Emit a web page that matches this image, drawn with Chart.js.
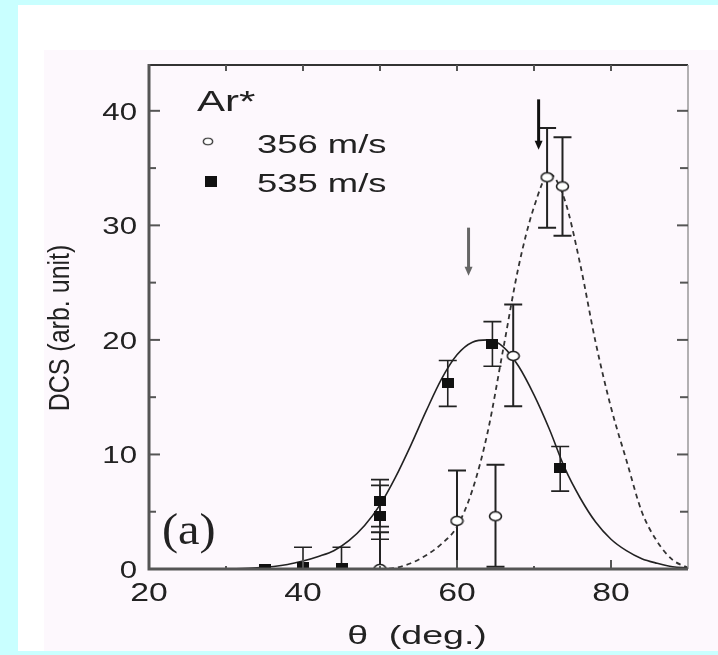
<!DOCTYPE html>
<html>
<head>
<meta charset="utf-8">
<script src="https://cdn.jsdelivr.net/npm/chart.js@4.4.1/dist/chart.umd.min.js"></script>
<style>
  html, body { margin: 0; padding: 0; background: #c9ffff; }
  #wrap { width: 718px; height: 655px; }
</style>
</head>
<body>
<div id="wrap"><canvas id="dcs" width="718" height="655"></canvas></div>
<script>
// Ar* DCS, 356 m/s beam (open circles)
const slowTheta = [50, 60, 65, 67.3, 71.7, 73.7];
const slowDcs   = [0, 4.2, 4.6, 18.6, 34.2, 33.4];
const slowLo    = [0, 0, 0.2, 14.2, 29.8, 29.1];
const slowHi    = [3.2, 8.6, 9.1, 23.1, 38.5, 37.7];

// Ar* DCS, 535 m/s beam (filled squares)
const fastTheta = [35, 40, 45, 50, 50, 58.8, 64.6, 73.4];
const fastDcs   = [0, 0.2, 0.1, 5.9, 4.6, 16.2, 19.6, 8.8];
const fastLo    = [null, 0, 0, 3.7, 2.6, 14.2, 17.7, 6.8];
const fastHi    = [null, 1.9, 1.9, 7.8, 7.3, 18.2, 21.6, 10.7];

// fitted curves
const fitFastTheta = [30, 34, 38, 40, 42, 44, 46, 48, 50, 52, 54, 56, 58, 60, 62, 64, 66, 68, 70, 72, 74, 76, 78, 80, 82, 84, 86, 88, 90];
const fitFastDcs   = [0, 0.1, 0.4, 0.7, 1.1, 1.6, 2.5, 3.8, 5.6, 8.0, 10.8, 13.8, 16.6, 18.7, 19.8, 20.0, 19.4, 17.7, 15.2, 12.2, 8.8, 6.2, 4.1, 2.6, 1.6, 0.9, 0.5, 0.2, 0.1];
const fitSlowTheta = [50, 52, 54, 56, 58, 60, 62, 64, 66, 68, 70, 72, 74, 76, 78, 80, 82, 84, 86, 88, 90];
const fitSlowDcs   = [0, 0.1, 0.5, 1.2, 2.2, 3.7, 6.9, 12.0, 19.2, 26.4, 31.6, 34.5, 32.2, 26.6, 19.8, 14.1, 9.5, 5.0, 2.4, 0.8, 0.1];

// arrows marking the rainbow angles
const arrowTheta = [61.5, 70.6];
const arrowTop   = [29.8, 41.0];
const arrowTip   = [25.6, 36.6];
const arrowColor = ['#666', '#111'];

// axis ticks
const xMajor = [20, 40, 60, 80];
const xMinor = [30, 50, 70];
const xTop   = [30, 40, 50, 60, 70, 80];
const yMajor = [0, 10, 20, 30, 40];
const yMinor = [5, 15, 25, 35];

const SANS = '"Liberation Sans", Arial, sans-serif';
const SERIF = '"Liberation Serif", "Times New Roman", serif';
const INK = '#222';

function pts(xs, ys) {
  return xs.map((x, i) => ({ x: x, y: ys[i] }));
}

// markers are slightly wider than tall
function makeCircle() {
  const c = document.createElement('canvas');
  c.width = 15; c.height = 12;
  const g = c.getContext('2d');
  g.beginPath();
  g.ellipse(7.5, 6, 6, 4.5, 0, 0, Math.PI * 2);
  g.fillStyle = '#fff';
  g.fill();
  g.lineWidth = 1.6;
  g.strokeStyle = INK;
  g.stroke();
  return c;
}
function makeSquare() {
  const c = document.createElement('canvas');
  c.width = 12; c.height = 10;
  const g = c.getContext('2d');
  g.fillStyle = '#111';
  g.fillRect(0, 0, 12, 10);
  return c;
}
const circleImg = makeCircle();
const squareImg = makeSquare();

// horizontally widened text
function wide(ctx, str, x, y, size, sx, align, font, rot) {
  ctx.save();
  ctx.translate(x, y);
  ctx.scale(sx, 1);
  if (rot) ctx.rotate(rot);
  ctx.font = size + 'px ' + (font || SANS);
  ctx.textAlign = align || 'left';
  ctx.textBaseline = 'alphabetic';
  ctx.fillStyle = INK;
  ctx.fillText(str, 0, 0);
  ctx.restore();
}

const backdrop = {
  id: 'backdrop',
  beforeDraw(chart) {
    const ctx = chart.ctx;
    ctx.save();
    ctx.fillStyle = '#c9ffff';
    ctx.fillRect(0, 0, 718, 655);
    ctx.fillStyle = '#ffffff';
    ctx.fillRect(18, 5, 700, 646);
    ctx.fillStyle = '#fdf8fd';
    ctx.fillRect(44, 50, 674, 601);
    ctx.restore();
  }
};

const errorBars = {
  id: 'errorBars',
  beforeDatasetsDraw(chart) {
    const ctx = chart.ctx, xs = chart.scales.x, ys = chart.scales.y;
    const a = chart.chartArea;
    ctx.save();
    ctx.beginPath();
    ctx.rect(a.left, a.top, a.right - a.left, a.bottom - a.top + 2);
    ctx.clip();
    ctx.strokeStyle = '#222';
    const draw = (tx, lo, hi, lw) => {
      tx.forEach((t, i) => {
        if (lo[i] === null) return;
        const px = xs.getPixelForValue(t);
        const p0 = ys.getPixelForValue(lo[i]);
        const p1 = ys.getPixelForValue(hi[i]);
        ctx.lineWidth = lw;
        ctx.beginPath();
        ctx.moveTo(px, p0); ctx.lineTo(px, p1);
        ctx.moveTo(px - 9, p0); ctx.lineTo(px + 9, p0);
        ctx.moveTo(px - 9, p1); ctx.lineTo(px + 9, p1);
        ctx.stroke();
      });
    };
    draw(fastTheta, fastLo, fastHi, 1.6);
    draw(slowTheta, slowLo, slowHi, 2);
    ctx.restore();
  }
};

const frame = {
  id: 'frame',
  afterDatasetsDraw(chart) {
    const ctx = chart.ctx, xs = chart.scales.x, ys = chart.scales.y;
    const a = chart.chartArea;
    ctx.save();

    // arrows
    arrowTheta.forEach((t, i) => {
      const px = xs.getPixelForValue(t);
      const top = ys.getPixelForValue(arrowTop[i]);
      const tip = ys.getPixelForValue(arrowTip[i]);
      ctx.strokeStyle = arrowColor[i];
      ctx.fillStyle = arrowColor[i];
      ctx.lineWidth = 3;
      ctx.beginPath();
      ctx.moveTo(px, top); ctx.lineTo(px, tip - 8);
      ctx.stroke();
      ctx.beginPath();
      ctx.moveTo(px - 4, tip - 9); ctx.lineTo(px + 4, tip - 9); ctx.lineTo(px, tip);
      ctx.closePath();
      ctx.fill();
    });

    // box
    ctx.lineCap = 'butt';
    ctx.strokeStyle = '#333';
    ctx.lineWidth = 2;
    ctx.beginPath(); ctx.moveTo(a.left, a.top); ctx.lineTo(a.right, a.top); ctx.stroke();
    ctx.strokeStyle = '#999';
    ctx.lineWidth = 1.5;
    ctx.beginPath(); ctx.moveTo(a.right, a.top); ctx.lineTo(a.right, a.bottom); ctx.stroke();
    ctx.strokeStyle = '#555';
    ctx.lineWidth = 3;
    ctx.beginPath();
    ctx.moveTo(a.left, a.top - 1); ctx.lineTo(a.left, a.bottom); ctx.lineTo(a.right, a.bottom);
    ctx.stroke();

    // ticks
    ctx.lineWidth = 2;
    ctx.strokeStyle = '#555';
    const tick = (x0, y0, x1, y1) => { ctx.beginPath(); ctx.moveTo(x0, y0); ctx.lineTo(x1, y1); ctx.stroke(); };
    yMajor.forEach(v => {
      const py = ys.getPixelForValue(v);
      if (v > 0) { tick(a.left, py, a.left + 11, py); tick(a.right, py, a.right - 11, py); }
    });
    yMinor.forEach(v => {
      const py = ys.getPixelForValue(v);
      tick(a.left, py, a.left + 7, py); tick(a.right, py, a.right - 8, py);
    });
    xMajor.forEach(v => {
      const px = xs.getPixelForValue(v);
      if (v > 20) tick(px, a.bottom, px, a.bottom - 9);
    });
    xMinor.forEach(v => {
      const px = xs.getPixelForValue(v);
      tick(px, a.bottom, px, a.bottom - 3);
    });
    xTop.forEach(v => {
      const px = xs.getPixelForValue(v);
      tick(px, a.top, px, a.top + 6);
    });
    ctx.restore();
  },
  afterDraw(chart) {
    const ctx = chart.ctx, xs = chart.scales.x, ys = chart.scales.y;
    const a = chart.chartArea;

    yMajor.forEach(v => wide(ctx, String(v), a.left - 12, ys.getPixelForValue(v) + 9, 24, 1.3, 'right'));
    xMajor.forEach(v => wide(ctx, String(v), xs.getPixelForValue(v), a.bottom + 32, 25, 1.35, 'center'));

    wide(ctx, 'DCS (arb. unit)', 69, 328, 25, 1.2, 'center', SANS, -Math.PI / 2);
    wide(ctx, 'θ  (deg.)', 417, 644, 25, 1.5, 'center');

    // legend
    wide(ctx, 'Ar*', 197, 111, 29, 1.45, 'left');
    ctx.drawImage(circleImg, 208 - 6, 142 - 5, 12, 9);
    wide(ctx, '356 m/s', 257, 153, 26, 1.4, 'left');
    ctx.drawImage(squareImg, 211 - 6, 181 - 5, 12, 11);
    wide(ctx, '535 m/s', 257, 192, 26, 1.4, 'left');

    wide(ctx, '(a)', 162, 544, 44, 1.1, 'left', SERIF);
  }
};

new Chart(document.getElementById('dcs'), {
  type: 'scatter',
  data: {
    datasets: [
      {
        label: '356 m/s',
        data: pts(slowTheta, slowDcs),
        pointStyle: circleImg,
        pointRadius: 6
      },
      {
        label: '535 m/s',
        data: pts(fastTheta, fastDcs),
        pointStyle: squareImg,
        pointRadius: 6
      },
      {
        label: 'fit 535 m/s',
        data: pts(fitFastTheta, fitFastDcs),
        showLine: true,
        borderColor: '#222',
        borderWidth: 1.6,
        pointRadius: 0,
        cubicInterpolationMode: 'monotone'
      },
      {
        label: 'fit 356 m/s',
        data: pts(fitSlowTheta, fitSlowDcs),
        showLine: true,
        borderColor: '#333',
        borderWidth: 1.8,
        borderDash: [5, 4],
        pointRadius: 0,
        cubicInterpolationMode: 'monotone'
      }
    ]
  },
  options: {
    responsive: false,
    animation: false,
    devicePixelRatio: 1,
    layout: { padding: { left: 149, right: 30, top: 65, bottom: 86 } },
    scales: {
      x: { type: 'linear', min: 20, max: 90, display: false },
      y: { type: 'linear', min: 0, max: 44, display: false }
    },
    plugins: {
      legend: { display: false },
      tooltip: { enabled: false }
    }
  },
  plugins: [backdrop, errorBars, frame]
});
</script>
</body>
</html>
